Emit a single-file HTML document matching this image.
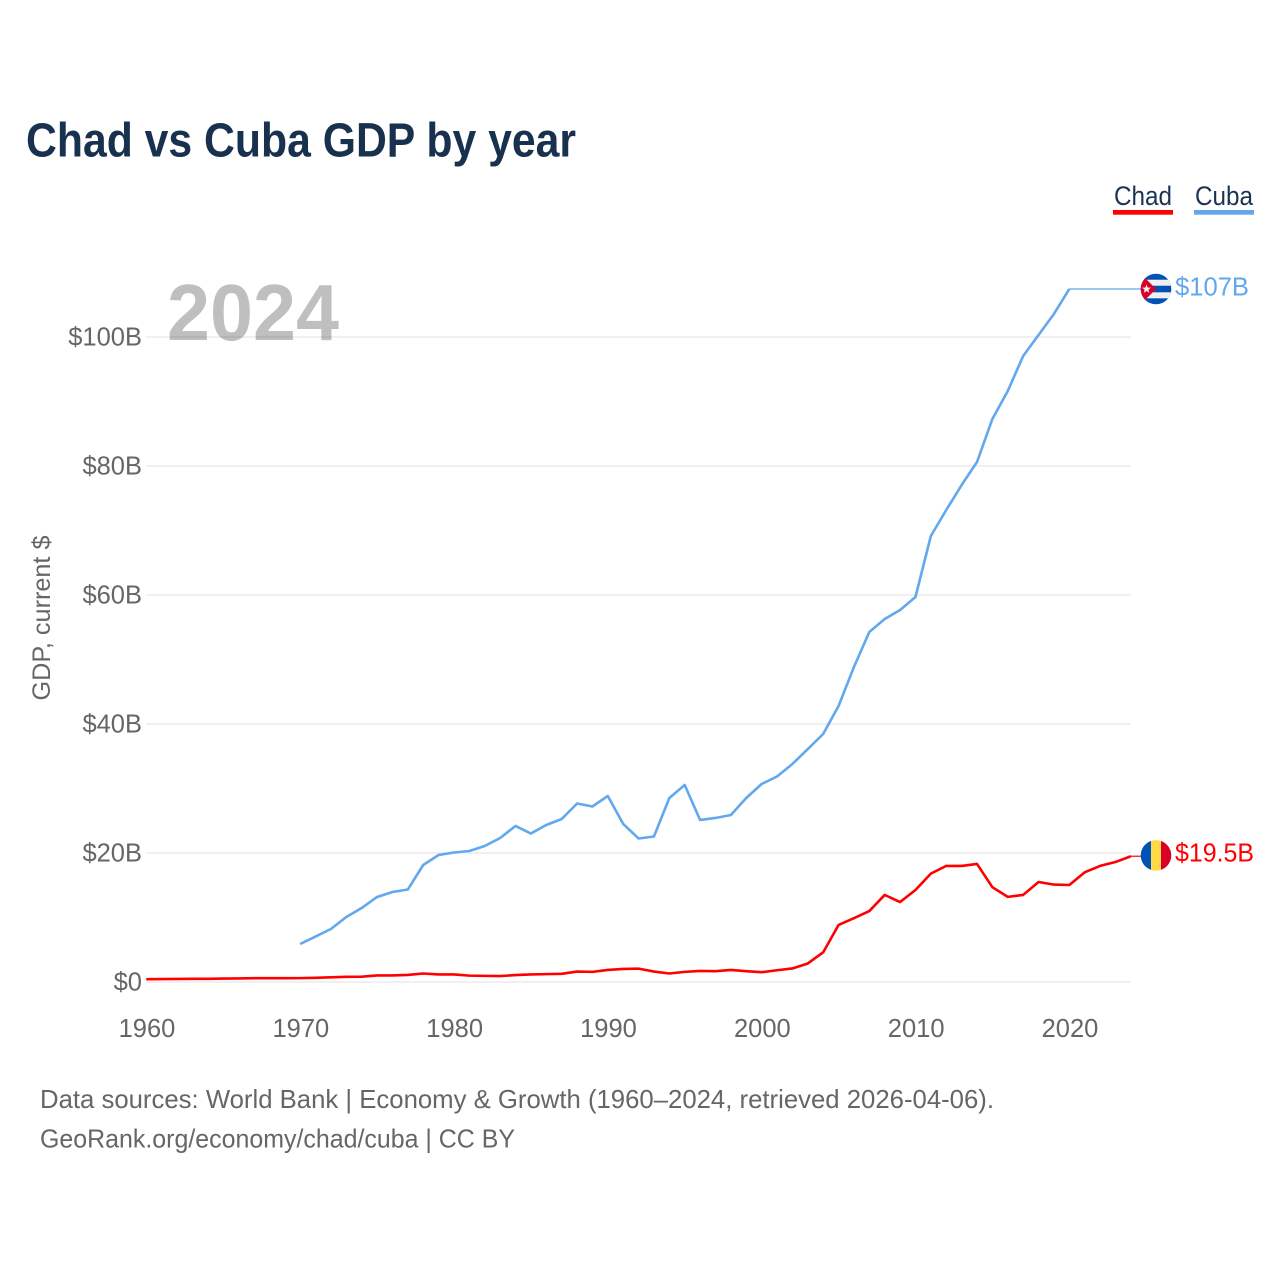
<!DOCTYPE html>
<html lang="en">
<head>
<meta charset="utf-8">
<title>Chad vs Cuba GDP by year</title>
<style>
  html, body { margin: 0; padding: 0; background: #fff; }
  #chart { display: block; width: 1280px; height: 1280px; font-family: "Liberation Sans", sans-serif; }
</style>
</head>
<body>
<svg id="chart" xmlns="http://www.w3.org/2000/svg" width="1280" height="1280" viewBox="0 0 1280 1280">
  <defs>
    <clipPath id="flag-clip"><circle cx="0" cy="0" r="15.3"></circle></clipPath>
  </defs>
  <rect x="0" y="0" width="1280" height="1280" fill="#ffffff"></rect>
  <text x="26" y="156.5" font-size="48" font-weight="700" fill="#17314f" textLength="550" lengthAdjust="spacingAndGlyphs">Chad vs Cuba GDP by year</text>

  <g>
    <g>
      <text x="1114" y="205" font-size="27" fill="#1a3353" textLength="58" lengthAdjust="spacingAndGlyphs">Chad</text>
      <rect x="1113" y="210" width="60" height="4.7" fill="#ff0000"></rect>
    </g>
    <g>
      <text x="1195" y="205" font-size="27" fill="#1a3353" textLength="58" lengthAdjust="spacingAndGlyphs">Cuba</text>
      <rect x="1194" y="210" width="60" height="4.7" fill="#62a8ee"></rect>
    </g>
  </g>

  <g id="grid"></g>
  <g id="y-axis"></g>
  <g id="x-axis"></g>

  <text x="167" y="340" font-size="80" font-weight="700" fill="#000000" fill-opacity="0.25" textLength="172" lengthAdjust="spacingAndGlyphs">2024</text>
  <text transform="translate(50,618) rotate(-90)" text-anchor="middle" font-size="25" fill="#666666" textLength="165" lengthAdjust="spacingAndGlyphs">GDP, current $</text>

  <g id="series"></g>

  <g id="flag-cuba">
    <g clip-path="url(#flag-clip)">
      <rect x="-16" y="-16" width="32" height="32" fill="#0052b4"></rect>
      <rect x="-16" y="-9.3" width="32" height="6" fill="#f0f0f0"></rect>
      <rect x="-16" y="3.3" width="32" height="6" fill="#f0f0f0"></rect>
      <polygon points="-16,-16 0,0 -16,16" fill="#d80027"></polygon>
      <polygon points="-9.5,-4.5 -8.3,-1.4 -5,-1.4 -7.6,0.7 -6.7,3.9 -9.5,2 -12.3,3.9 -11.4,0.7 -14,-1.4 -10.7,-1.4" fill="#f0f0f0"></polygon>
    </g>
  </g>
  <g id="flag-chad">
    <g clip-path="url(#flag-clip)">
      <rect x="-16" y="-16" width="11" height="32" fill="#0052b4"></rect>
      <rect x="-5" y="-16" width="10" height="32" fill="#ffda44"></rect>
      <rect x="5" y="-16" width="11" height="32" fill="#d80027"></rect>
    </g>
  </g>

  <text id="value-cuba" x="1175" font-size="25.5" fill="#62a8ee" textLength="74" lengthAdjust="spacingAndGlyphs"></text>
  <text id="value-chad" x="1175" font-size="25.5" fill="#ff0000" textLength="79" lengthAdjust="spacingAndGlyphs"></text>

  <text x="40" y="1108" font-size="26" fill="#666666" textLength="954" lengthAdjust="spacingAndGlyphs">Data sources: World Bank | Economy &amp; Growth (1960–2024, retrieved 2026-04-06).</text>
  <text x="40" y="1147.5" font-size="26" fill="#666666" textLength="475" lengthAdjust="spacingAndGlyphs">GeoRank.org/economy/chad/cuba | CC BY</text>
</svg>

<script>
const years = [1960,1961,1962,1963,1964,1965,1966,1967,1968,1969,
  1970,1971,1972,1973,1974,1975,1976,1977,1978,1979,
  1980,1981,1982,1983,1984,1985,1986,1987,1988,1989,
  1990,1991,1992,1993,1994,1995,1996,1997,1998,1999,
  2000,2001,2002,2003,2004,2005,2006,2007,2008,2009,
  2010,2011,2012,2013,2014,2015,2016,2017,2018,2019,
  2020,2021,2022,2023,2024];
const chadGdp = [0.43,0.45,0.48,0.49,0.50,0.54,0.55,0.59,0.59,0.59,
  0.60,0.65,0.72,0.80,0.82,1.02,1.02,1.09,1.32,1.17,
  1.17,0.99,0.95,0.92,1.07,1.17,1.22,1.27,1.62,1.57,
  1.87,2.02,2.07,1.62,1.32,1.57,1.72,1.67,1.87,1.67,
  1.52,1.82,2.10,2.87,4.60,8.84,9.90,11.0,13.5,12.4,
  14.26,16.8,18.0,18.0,18.3,14.7,13.2,13.5,15.5,15.1,
  15.04,17.0,18.0,18.6,19.5];
const cubaGdp = [null,null,null,null,null,null,null,null,null,null,
  5.89,7.05,8.22,10.08,11.47,13.18,13.95,14.34,18.14,19.69,
  20.08,20.31,21.09,22.33,24.19,23.02,24.34,25.27,27.67,27.21,
  28.84,24.5,22.25,22.56,28.53,30.54,25.12,25.43,25.89,28.53,
  30.7,31.86,33.8,36.12,38.45,42.79,48.84,54.26,56.28,57.67,
  59.69,69.15,73.18,77.05,80.62,87.29,91.63,97.05,100.31,103.57,
  107.44,null,null,null,null];
const yTicks = [0,20,40,60,80,100];
const yTickLabels = ["$0","$20B","$40B","$60B","$80B","$100B"];
const xTicks = [1960,1970,1980,1990,2000,2010,2020];
const xTickLabels = ["1960","1970","1980","1990","2000","2010","2020"];
const endValueLabels = ["$19.5B","$107B"];

const SVG_NS = "http://www.w3.org/2000/svg";
function xScale(year) { return 146.3 + (year - 1960) * (1069.3 - 146.3) / 60; }
function yScale(value) { return 982 - value * 6.45; }
const plotRight = xScale(2024);
const flagX = 1156;
const flagEdge = 1141;

const gridLayer = document.getElementById("grid");
const yAxisLayer = document.getElementById("y-axis");
const xAxisLayer = document.getElementById("x-axis");
const seriesLayer = document.getElementById("series");

yTicks.forEach(function (tick, i) {
  const line = document.createElementNS(SVG_NS, "line");
  
  
  line.setAttribute("x1", xScale(1960));
  line.setAttribute("x2", plotRight);
  line.setAttribute("y1", yScale(tick));
  line.setAttribute("y2", yScale(tick));
  line.setAttribute("stroke", "#f0f0f0");
  line.setAttribute("stroke-width", "2");
  gridLayer.appendChild(line);

  const label = document.createElementNS(SVG_NS, "text");
  
  
  label.setAttribute("x", 142);
  label.setAttribute("y", yScale(tick) + 8.5);
  label.setAttribute("text-anchor", "end");
  label.setAttribute("font-size", "25.5");
  label.setAttribute("fill", "#666666");
  label.textContent = yTickLabels[i];
  yAxisLayer.appendChild(label);
});

xTicks.forEach(function (tick, i) {
  const label = document.createElementNS(SVG_NS, "text");
  
  
  label.setAttribute("x", xScale(tick) + 0.7);
  label.setAttribute("y", 1037);
  label.setAttribute("text-anchor", "middle");
  label.setAttribute("font-size", "25.5");
  label.setAttribute("fill", "#666666");
  label.textContent = xTickLabels[i];
  xAxisLayer.appendChild(label);
});

function seriesPoints(values) {
  const points = [];
  values.forEach(function (value, i) {
    if (value !== null) {
      points.push([xScale(years[i]), yScale(value)]);
    }
  });
  return points;
}

function drawConnector(last, color) {
  const connector = document.createElementNS(SVG_NS, "line");
  
  
  connector.setAttribute("x1", last[0]);
  connector.setAttribute("y1", last[1]);
  connector.setAttribute("x2", flagEdge);
  connector.setAttribute("y2", last[1]);
  connector.setAttribute("stroke", color);
  connector.setAttribute("stroke-width", "1.2");
  seriesLayer.appendChild(connector);
}

function drawLine(points, color) {
  const path = document.createElementNS(SVG_NS, "polyline");
  
  
  path.setAttribute("points", points.map(function (p) { return p[0] + "," + p[1]; }).join(" "));
  path.setAttribute("fill", "none");
  path.setAttribute("stroke", color);
  path.setAttribute("stroke-width", "2.6");
  path.setAttribute("stroke-linejoin", "round");
  seriesLayer.appendChild(path);
}

const cubaPoints = seriesPoints(cubaGdp);
const chadPoints = seriesPoints(chadGdp);
const cubaLast = cubaPoints[cubaPoints.length - 1];
const chadLast = chadPoints[chadPoints.length - 1];

drawConnector(cubaLast, "#62a8ee");
drawLine(cubaPoints, "#62a8ee");
drawConnector(chadLast, "#ff0000");
drawLine(chadPoints, "#ff0000");

document.getElementById("flag-cuba").setAttribute("transform", "translate(" + flagX + "," + cubaLast[1] + ")");
document.getElementById("flag-chad").setAttribute("transform", "translate(" + flagX + "," + (chadLast[1] - 0.8) + ")");

const cubaValue = document.getElementById("value-cuba");
cubaValue.setAttribute("y", cubaLast[1] + 6.5);
cubaValue.textContent = endValueLabels[1];
const chadValue = document.getElementById("value-chad");
chadValue.setAttribute("y", chadLast[1] + 5.5);
chadValue.textContent = endValueLabels[0];
</script>
</body>
</html>
